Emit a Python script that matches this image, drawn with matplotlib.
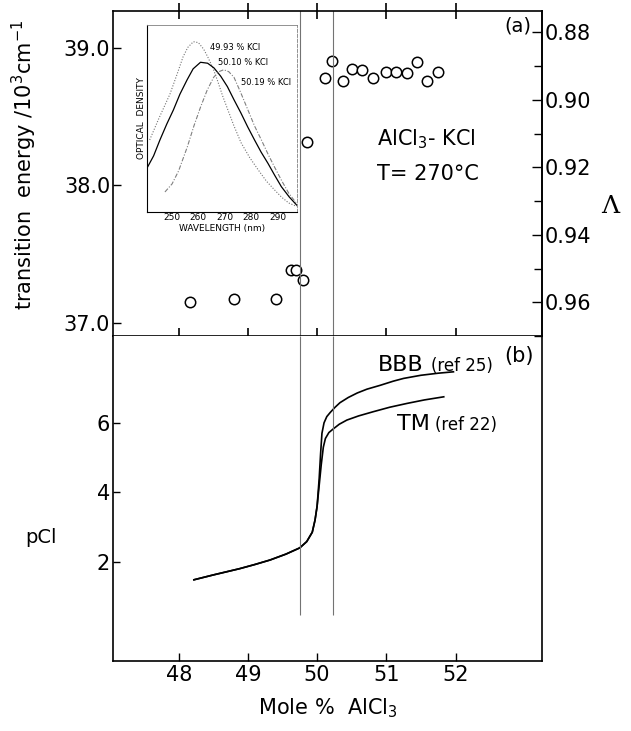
import numpy as np
import matplotlib.pyplot as plt
from matplotlib.ticker import MultipleLocator

plt.rcParams['font.family'] = 'DejaVu Sans'
plt.rcParams['mathtext.default'] = 'regular'

# (a) transition energy vs mole % AlCl3
mole_a = [48.16, 48.80, 49.41, 49.62, 49.70, 49.80, 49.86, 50.12, 50.22, 50.38,
          50.51, 50.65, 50.81, 50.99, 51.14, 51.30, 51.45, 51.59, 51.74]
energy = [37.15, 37.17, 37.17, 37.38, 37.38, 37.31, 38.32, 38.78, 38.91, 38.76,
          38.85, 38.84, 38.78, 38.83, 38.83, 38.82, 38.90, 38.76, 38.83]

# composition limits (vertical lines)
eq_lines = [49.75, 50.23]

# (b) pCl curves
bbb_x = [48.22, 48.5, 48.88, 49.1, 49.32, 49.55, 49.75, 49.85, 49.93, 49.97, 50.00,
         50.03, 50.05, 50.07, 50.10, 50.14, 50.19, 50.26, 50.33, 50.45, 50.58,
         50.72, 50.91, 51.10, 51.25, 51.50, 51.75, 51.97]
bbb_y = [1.48, 1.62, 1.80, 1.92, 2.05, 2.22, 2.40, 2.58, 2.85, 3.20, 3.60,
         4.40, 5.10, 5.70, 6.00, 6.18, 6.30, 6.45, 6.58, 6.73, 6.86,
         6.97, 7.08, 7.20, 7.28, 7.37, 7.43, 7.47]
tm_x = [48.22, 48.5, 48.88, 49.1, 49.32, 49.55, 49.75, 49.85, 49.93, 49.97, 50.00,
        50.03, 50.06, 50.09, 50.12, 50.17, 50.23, 50.32, 50.43, 50.60, 50.81,
        51.05, 51.30, 51.55, 51.83]
tm_y = [1.48, 1.62, 1.80, 1.92, 2.05, 2.22, 2.40, 2.58, 2.85, 3.20, 3.60,
        4.20, 4.80, 5.30, 5.55, 5.72, 5.82, 5.96, 6.08, 6.20, 6.32,
        6.45, 6.56, 6.66, 6.75]

# inset spectra
wl_4993 = [241.5, 245.0, 249.2, 252.0, 254.2, 256.0, 258.1, 260.0, 262.0, 263.5, 265.5,
           267.3, 269.2, 271.2, 273.5, 276.2, 279.5, 282.7, 285.8, 288.9, 291.5, 294.3, 297.3]
od_4993 = [0.385, 0.50, 0.63, 0.74, 0.83, 0.88, 0.91, 0.905, 0.87, 0.83, 0.77,
           0.70, 0.62, 0.545, 0.46, 0.37, 0.29, 0.225, 0.165, 0.118, 0.08, 0.048, 0.03]
wl_5010 = [240.7, 243.0, 245.4, 248.0, 250.5, 253.0, 255.7, 258.0, 260.8, 263.5, 265.9,
           268.5, 271.0, 273.5, 276.1, 278.7, 281.3, 283.8, 286.4, 289.0, 291.5, 294.5, 297.3]
od_5010 = [0.24, 0.30, 0.385, 0.47, 0.545, 0.63, 0.706, 0.765, 0.80, 0.795, 0.77,
           0.725, 0.67, 0.60, 0.53, 0.455, 0.385, 0.32, 0.26, 0.195, 0.135, 0.08, 0.037]
wl_5019 = [247.3, 250.0, 252.5, 254.3, 255.8, 258.3, 260.8, 263.3, 265.8, 267.8, 269.6,
           271.5, 273.5, 276.0, 278.8, 281.3, 283.9, 286.4, 288.9, 291.5, 294.3, 297.3]
od_5019 = [0.107, 0.15, 0.22, 0.29, 0.348, 0.46, 0.56, 0.65, 0.72, 0.75, 0.76,
           0.75, 0.72, 0.64, 0.545, 0.46, 0.385, 0.31, 0.24, 0.17, 0.10, 0.045]

fig = plt.figure(figsize=(6.31, 7.31), dpi=100)
L, W = 0.179, 0.680
H = 0.4446
ax1 = fig.add_axes([L, 0.540, W, H])
ax2 = fig.add_axes([L, 0.0957, W, H])

xlim = (47.05, 53.25)
xt = [48, 49, 50, 51, 52]

# ---- top panel
ax1.plot(mole_a, energy, 'o', mfc='white', mec='black', ms=7.5, mew=1.1)
for xv in eq_lines:
    ax1.axvline(xv, color='0.45', lw=0.8)
ax1.set_xlim(xlim)
ax1.set_ylim(36.90, 39.27)
ax1.set_yticks([37.0, 38.0, 39.0])
ax1.set_yticklabels(['37.0', '38.0', '39.0'])
ax1.set_xticks(xt)
ax1.tick_params(axis='x', which='both', top=True, bottom=True, direction='inout',
                length=12, width=1.2, labelbottom=False)
ax1.tick_params(axis='y', direction='in', length=6, width=1, labelsize=15, pad=2)
for s in ax1.spines.values():
    s.set_linewidth(1.2)

axr = ax1.twinx()
axr.set_ylim(0.9700, 0.8738)
axr.yaxis.set_major_locator(MultipleLocator(0.02))
axr.yaxis.set_minor_locator(MultipleLocator(0.01))
axr.yaxis.set_major_formatter(plt.FormatStrFormatter('%.2f'))
axr.tick_params(axis='y', which='major', direction='in', length=7, width=1, labelsize=15, pad=2)
axr.tick_params(axis='y', which='minor', direction='in', length=6, width=1)
axr.spines['top'].set_visible(False)
axr.spines['bottom'].set_visible(False)
axr.spines['left'].set_visible(False)
axr.spines['right'].set_linewidth(1.2)

ax1.text(0.975, 0.955, '(a)', transform=ax1.transAxes, ha='right', va='center', fontsize=14)
ax1.text(0.615, 0.605, 'AlCl$_3$- KCl', transform=ax1.transAxes, fontsize=15, va='center')
ax1.text(0.615, 0.50, 'T= 270°C', transform=ax1.transAxes, fontsize=15, va='center')

fig.text(0.038, 0.775, 'transition  energy /10$^3$cm$^{-1}$', rotation=90,
         ha='center', va='center', fontsize=15)
fig.text(0.967, 0.717, 'Λ', family='DejaVu Serif', fontsize=18, ha='center', va='center')

# ---- bottom panel
ax2.plot(bbb_x, bbb_y, color='black', lw=1.2)
ax2.plot(tm_x, tm_y, color='black', lw=1.2)
ax2.vlines(eq_lines, 0.47, 8.5, color='0.45', lw=0.8)
ax2.set_xlim(xlim)
ax2.set_ylim(-0.86, 8.5)
ax2.set_xticks(xt)
ax2.set_xticklabels(['48', '49', '50', '51', '52'])
ax2.set_yticks([2, 4, 6])
ax2.tick_params(axis='x', direction='in', length=6, width=1, labelsize=15, pad=3)
ax2.tick_params(axis='y', direction='in', length=5, width=1, labelsize=15, pad=2)
ax2.spines['top'].set_visible(False)
for s in ax2.spines.values():
    s.set_linewidth(1.2)
ax2.set_xlabel('Mole %  AlCl$_3$', fontsize=15, labelpad=8)

ax2.text(50.88, 7.48, 'BBB', fontsize=16, va='baseline')
ax2.text(51.64, 7.48, '(ref 25)', fontsize=12, va='baseline')
ax2.text(52.70, 7.75, '(b)', fontsize=15, va='baseline')
ax2.text(51.16, 5.80, 'TM', fontsize=16, va='baseline')
ax2.text(51.71, 5.80, '(ref 22)', fontsize=12, va='baseline')
fig.text(0.04, 0.265, 'pCl', fontsize=14, ha='left', va='center')

# ---- inset
axi = fig.add_axes([0.233, 0.710, 0.238, 0.256])
axi.plot(wl_4993, od_4993, color='0.45', lw=0.8, ls=(0, (1, 1.5)))
axi.plot(wl_5010, od_5010, color='black', lw=0.9)
axi.plot(wl_5019, od_5019, color='0.5', lw=0.8, ls=(0, (4, 1.5, 1, 1.5)))
axi.set_xlim(240.5, 297.5)
axi.set_ylim(0, 1.0)
axi.set_xticks([250, 260, 270, 280, 290])
axi.set_yticks([])
axi.tick_params(axis='x', length=0, labelsize=6.5, pad=1)
axi.set_xlabel('WAVELENGTH (nm)', fontsize=6.5, labelpad=1)
axi.set_ylabel('OPTICAL  DENSITY', fontsize=6.5, labelpad=1)
axi.spines['top'].set_color('0.5')
axi.spines['right'].set_color('0.5')
axi.spines['top'].set_linewidth(0.6)
axi.spines['right'].set_linewidth(0.6)
axi.spines['right'].set_linestyle((0, (4, 2)))
axi.text(264.5, 0.88, '49.93 % KCl', fontsize=6, va='center')
axi.text(267.5, 0.80, '50.10 % KCl', fontsize=6, va='center')
axi.text(276.0, 0.69, '50.19 % KCl', fontsize=6, va='center')

fig.savefig('out.png', dpi=100)
